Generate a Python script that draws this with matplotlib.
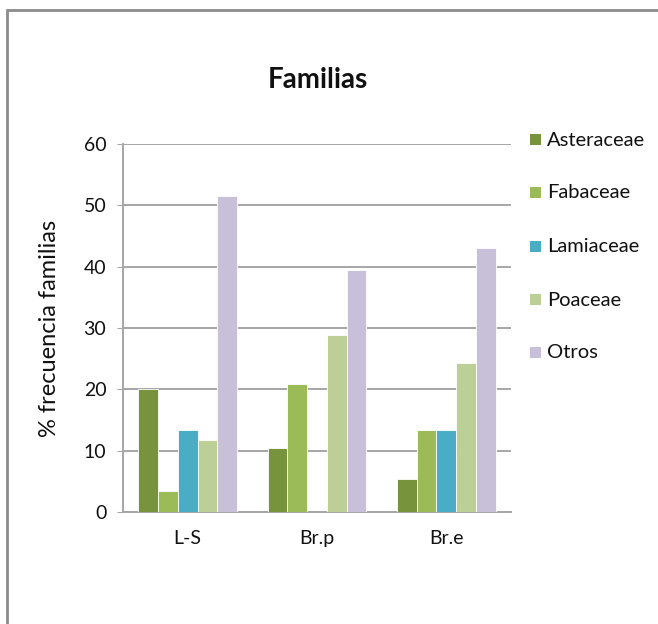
import matplotlib.pyplot as plt
import numpy as np
from matplotlib.patches import Rectangle

plt.rcParams['font.family'] = ['Lato', 'DejaVu Sans']

categories = ["L-S", "Br.p", "Br.e"]
families = ["Asteraceae", "Fabaceae", "Lamiaceae", "Poaceae", "Otros"]
asteraceae = [20.0, 10.5, 5.4]
fabaceae = [3.4, 20.9, 13.4]
lamiaceae = [13.4, 0.0, 13.4]
poaceae = [11.7, 28.9, 24.3]
otros = [51.5, 39.4, 43.1]
series = [asteraceae, fabaceae, lamiaceae, poaceae, otros]
colors = ["#77933C", "#9BBB59", "#4BACC6", "#BBCF97", "#C8C0D8"]

W, H = 658, 624
fig = plt.figure(figsize=(W / 100, H / 100), dpi=100)

# outer chart border (open to the right and bottom)
fig.patches.append(Rectangle((7 / W, -0.1), 1.2, (H - 10) / H + 0.1,
                             transform=fig.transFigure, fill=False,
                             edgecolor="#8C8C8C", linewidth=2, clip_on=False))

ax = fig.add_axes([123 / W, 1 - 512 / H, (511 - 123) / W, (512 - 144) / H])

x = np.arange(len(categories))
bw = 0.1525
for i, (vals, name, c) in enumerate(zip(series, families, colors)):
    ax.bar(x + (i - 2) * bw, vals, width=bw, color=c, edgecolor="white",
           linewidth=0.6, label=name, zorder=3)

ax.set_xlim(-0.5, 2.5)
ax.set_ylim(0, 60)
ax.set_yticks(range(0, 61, 10))
ax.set_xticks(x)
ax.set_xticklabels(categories)
ax.yaxis.grid(True, color="#A6A6A6", linewidth=1.4, zorder=0)
ax.set_axisbelow(True)
for s in ["top", "right"]:
    ax.spines[s].set_visible(False)
for s in ["left", "bottom"]:
    ax.spines[s].set_color("#A6A6A6")
    ax.spines[s].set_linewidth(1.4)
ax.tick_params(axis="y", length=4, color="#A6A6A6", labelsize=14, pad=8,
               labelcolor="#111111")
ax.tick_params(axis="x", length=0, labelsize=14, pad=13, labelcolor="#111111")

ax.set_ylabel("% frecuencia familias", fontsize=17, labelpad=17, color="#111111")

fig.text(318 / W, 1 - 80 / H, "Familias", ha="center", va="center",
         fontsize=20, fontweight="bold", color="#111111")

# legend entries stacked with wide spacing
ys = [140, 193, 247, 300, 353]
for name, c, yy in zip(families, colors, ys):
    fig.patches.append(Rectangle((530 / W, 1 - (yy + 5) / H), 11 / W, 11 / H,
                                 transform=fig.transFigure, facecolor=c,
                                 edgecolor="none"))
    fig.text(547 / W, 1 - yy / H, name, ha="left", va="center", fontsize=14.5,
             color="#111111")

fig.savefig("out.png", dpi=100)
